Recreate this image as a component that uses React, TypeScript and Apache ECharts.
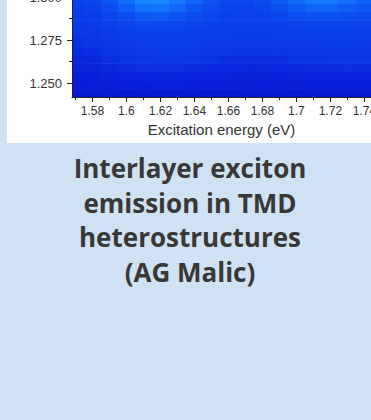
import React, { useEffect, useRef } from "react";
import * as echarts from "echarts";

// Excitation energy (eV) column centres
const X_CENTERS = [1.57, 1.58, 1.59, 1.6, 1.61, 1.62, 1.63, 1.64, 1.65, 1.66, 1.67, 1.68, 1.69, 1.7, 1.71, 1.72, 1.73, 1.74];
// Emission energy (eV) row centres, bottom to top
const Y_CENTERS = [1.244, 1.249, 1.254, 1.259, 1.264, 1.269, 1.274, 1.279, 1.284, 1.289, 1.294, 1.299];
// Normalised intensity, one row per Y_CENTERS entry
const INTENSITY = [
  [0.03, 0.03, 0.04, 0.04, 0.05, 0.05, 0.05, 0.05, 0.04, 0.04, 0.04, 0.04, 0.04, 0.04, 0.05, 0.05, 0.05, 0.05],
  [0.06, 0.07, 0.08, 0.09, 0.1, 0.11, 0.11, 0.1, 0.09, 0.09, 0.08, 0.08, 0.08, 0.09, 0.09, 0.1, 0.1, 0.1],
  [0.1, 0.12, 0.14, 0.16, 0.18, 0.19, 0.19, 0.18, 0.16, 0.15, 0.14, 0.14, 0.14, 0.15, 0.16, 0.17, 0.18, 0.18],
  [0.15, 0.17, 0.2, 0.24, 0.27, 0.28, 0.28, 0.26, 0.23, 0.21, 0.2, 0.2, 0.21, 0.22, 0.24, 0.26, 0.27, 0.26],
  [0.2, 0.22, 0.27, 0.32, 0.35, 0.36, 0.36, 0.34, 0.31, 0.28, 0.27, 0.27, 0.28, 0.3, 0.32, 0.34, 0.34, 0.33],
  [0.25, 0.28, 0.33, 0.37, 0.39, 0.4, 0.4, 0.39, 0.37, 0.35, 0.34, 0.34, 0.35, 0.36, 0.37, 0.38, 0.38, 0.37],
  [0.3, 0.33, 0.37, 0.4, 0.42, 0.43, 0.43, 0.42, 0.41, 0.4, 0.39, 0.39, 0.39, 0.4, 0.41, 0.41, 0.41, 0.4],
  [0.35, 0.37, 0.4, 0.43, 0.45, 0.46, 0.45, 0.44, 0.43, 0.42, 0.41, 0.41, 0.42, 0.43, 0.44, 0.44, 0.44, 0.43],
  [0.38, 0.4, 0.44, 0.48, 0.52, 0.53, 0.51, 0.48, 0.46, 0.44, 0.43, 0.43, 0.45, 0.47, 0.49, 0.49, 0.48, 0.47],
  [0.4, 0.43, 0.48, 0.56, 0.63, 0.65, 0.6, 0.54, 0.5, 0.46, 0.45, 0.46, 0.5, 0.55, 0.58, 0.58, 0.56, 0.54],
  [0.42, 0.46, 0.55, 0.68, 0.8, 0.82, 0.74, 0.62, 0.54, 0.48, 0.47, 0.5, 0.57, 0.66, 0.72, 0.72, 0.68, 0.62],
  [0.45, 0.5, 0.62, 0.78, 0.92, 0.95, 0.85, 0.72, 0.6, 0.52, 0.5, 0.55, 0.65, 0.78, 0.85, 0.86, 0.8, 0.7],
];

const X_MAJOR = [1.58, 1.6, 1.62, 1.64, 1.66, 1.68, 1.7, 1.72, 1.74];
const X_MINOR = [1.57, 1.59, 1.61, 1.63, 1.65, 1.67, 1.69, 1.71, 1.73];
const Y_MAJOR = [1.25, 1.275, 1.3];
const Y_MINOR = [1.2625, 1.2875];

const X_NAME = "Excitation energy (eV)";
const TITLE_LINES = ["Interlayer exciton", "emission in TMD", "heterostructures", "(AG Malic)"];
const COLORS = ["#0816d2", "#0a24dc", "#0a34e6", "#0b45ee", "#0d5cf5", "#1377fb", "#1c93ff"];

const XMIN = 1.568;
const XMAX = 1.7439;
const YMIN = 1.2419;
const YMAX = 1.3157;
const HALF_W = 0.005;
const HALF_H = 0.0025;
const SHIFT = 30; // chart canvas starts 30px above the visible page

export default function App() {
  const ref = useRef<HTMLDivElement>(null);
  useEffect(() => {
    if (!ref.current) return;
    const chart = echarts.init(ref.current, undefined, { renderer: "svg" });
    const data: number[][] = [];
    Y_CENTERS.forEach((y, r) => {
      X_CENTERS.forEach((x, c) => {
        data.push([x, y, INTENSITY[r][c]]);
      });
    });
    const axisColor = "#222";
    const labelColor = "#333";
    const font = "Liberation Sans";
    chart.setOption({
      animation: false,
      backgroundColor: "#cfe2f3",
      grid: {
        left: 72,
        right: 0,
        top: 0,
        height: 97 + SHIFT,
        containLabel: false,
        outerBoundsMode: "none",
      },
      graphic: [
        { type: "rect", z: -10, shape: { x: 7, y: 0, width: 364, height: 143 + SHIFT }, style: { fill: "#ffffff" } },
        {
          type: "text",
          x: 190,
          y: 151 + SHIFT,
          style: {
            text: TITLE_LINES.join("\n"),
            fontSize: 26,
            fontWeight: "bold",
            fontFamily: "Open Sans",
            fill: "#383838",
            align: "center",
            verticalAlign: "top",
            lineHeight: 34.5,
          },
        },
      ],
      visualMap: {
        show: false,
        seriesIndex: 0,
        dimension: 2,
        min: 0,
        max: 1,
        inRange: { color: COLORS },
      },
      xAxis: [
        {
          type: "value",
          min: XMIN,
          max: XMAX,
          position: "bottom",
          z: 5,
          axisLine: { show: true, onZero: false, lineStyle: { color: axisColor, width: 1 } },
          axisTick: { show: true, customValues: X_MAJOR, length: 5, lineStyle: { color: axisColor } },
          axisLabel: {
            customValues: X_MAJOR,
            formatter: (v: number) => String(+v.toFixed(2)),
            fontSize: 12,
            fontFamily: font,
            color: labelColor,
            margin: 8,
            hideOverlap: false,
          },
          splitLine: { show: false },
          name: X_NAME,
          nameLocation: "middle",
          nameGap: 25,
          nameTextStyle: { fontSize: 15, fontFamily: font, color: labelColor },
        },
        {
          type: "value",
          min: XMIN,
          max: XMAX,
          position: "bottom",
          z: 5,
          axisLine: { show: false, onZero: false },
          axisTick: { show: true, customValues: X_MINOR, length: 3, lineStyle: { color: axisColor } },
          axisLabel: { show: false },
          splitLine: { show: false },
        },
      ],
      yAxis: [
        {
          type: "value",
          min: YMIN,
          max: YMAX,
          position: "left",
          z: 5,
          axisLine: { show: true, onZero: false, lineStyle: { color: axisColor, width: 1 } },
          axisTick: { show: true, customValues: Y_MAJOR, length: 5, lineStyle: { color: axisColor } },
          axisLabel: {
            customValues: Y_MAJOR,
            formatter: (v: number) => v.toFixed(3),
            fontSize: 13,
            fontFamily: font,
            color: labelColor,
            margin: 10,
          },
          splitLine: { show: false },
        },
        {
          type: "value",
          min: YMIN,
          max: YMAX,
          position: "left",
          z: 5,
          axisLine: { show: false, onZero: false },
          axisTick: { show: true, customValues: Y_MINOR, length: 3, lineStyle: { color: axisColor } },
          axisLabel: { show: false },
          splitLine: { show: false },
        },
      ],
      series: [
        {
          type: "custom",
          xAxisIndex: 0,
          yAxisIndex: 0,
          clip: true,
          z: 1,
          data,
          renderItem: (params: any, api: any) => {
            const x = api.value(0);
            const y = api.value(1);
            const p0 = api.coord([x - HALF_W, y + HALF_H]);
            const p1 = api.coord([x + HALF_W, y - HALF_H]);
            return {
              type: "rect",
              shape: { x: p0[0], y: p0[1], width: p1[0] - p0[0] + 0.6, height: p1[1] - p0[1] + 0.6 },
              style: { fill: api.visual("color") },
            };
          },
        },
      ],
    });
    return () => chart.dispose();
  }, []);
  return (
    <div style={{ position: "fixed", left: 0, top: 0, width: 371, height: 420, overflow: "hidden", background: "#cfe2f3" }}>
      <div ref={ref} style={{ position: "absolute", left: 0, top: -SHIFT, width: 371, height: 420 + SHIFT }} />
    </div>
  );
}
